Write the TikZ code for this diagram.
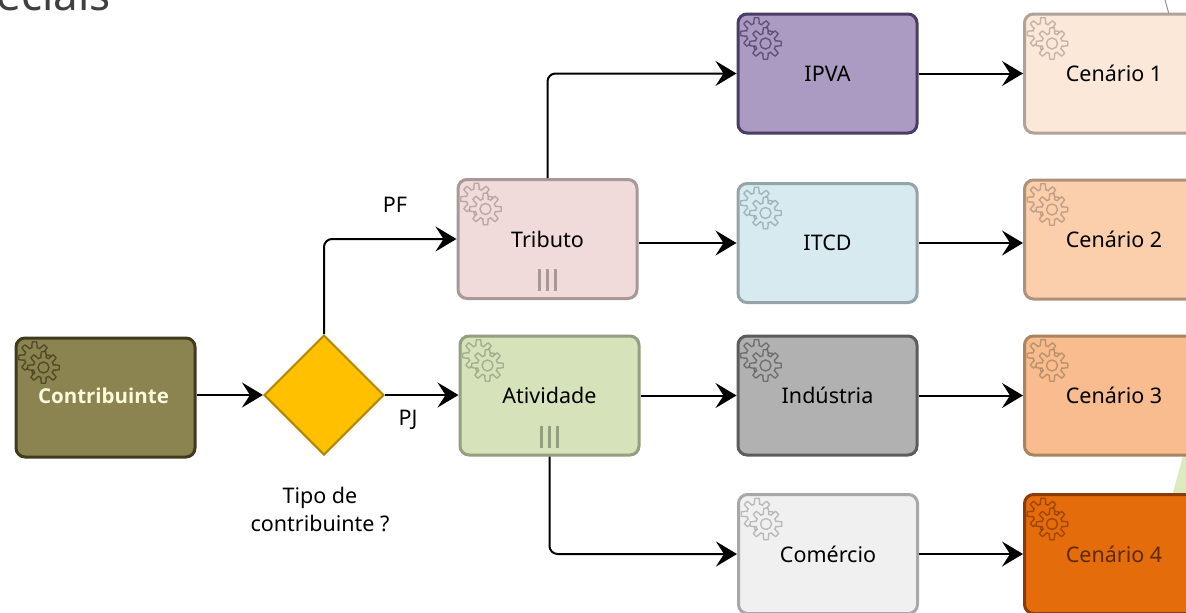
\documentclass[tikz,border=0pt]{standalone}
\usepackage{fontspec}
\setmainfont{Noto Sans}
\newfontfamily\boldface{Open Sans}
\usetikzlibrary{arrows.meta,shapes.geometric}
\definecolor{contribfill}{HTML}{8B8350}
\definecolor{contribline}{HTML}{3F3B1C}
\definecolor{contribtext}{HTML}{FBFBDC}
\definecolor{tributofill}{HTML}{F0DADA}
\definecolor{tributoline}{HTML}{A89898}
\definecolor{ativfill}{HTML}{D6E2BA}
\definecolor{ativline}{HTML}{949E80}
\definecolor{ipvafill}{HTML}{AB9AC1}
\definecolor{ipvaline}{HTML}{4A3C63}
\definecolor{itcdfill}{HTML}{D6EAF0}
\definecolor{itcdline}{HTML}{94A4A8}
\definecolor{indfill}{HTML}{B1B1B1}
\definecolor{indline}{HTML}{5C5C5C}
\definecolor{comfill}{HTML}{F0F0F0}
\definecolor{comline}{HTML}{A8A8A8}
\definecolor{cenafill}{HTML}{FCE8D9}
\definecolor{cenaline}{HTML}{B0A298}
\definecolor{cenbfill}{HTML}{FBCEAC}
\definecolor{cenbline}{HTML}{AF9078}
\definecolor{cencfill}{HTML}{F8BC8E}
\definecolor{cencline}{HTML}{A98460}
\definecolor{cendfill}{HTML}{E46C0A}
\definecolor{cendline}{HTML}{8A3B08}
\definecolor{cendtext}{HTML}{5E2A08}
\definecolor{diamfill}{HTML}{FFC000}
\definecolor{diamline}{HTML}{B38600}
\definecolor{titlegrey}{HTML}{404040}
\definecolor{decogreen}{HTML}{DDEABF}
\tikzset{
  taskbox/.style={draw,rounded corners=9pt,line width=3pt,minimum width=179pt,minimum height=119pt,font=\fontsize{21.5}{26}\selectfont,inner sep=0pt},
  flow/.style={draw=black,line width=2pt,rounded corners=8pt,-{Stealth[length=21pt,width=25pt,inset=8pt]}},
  lbl/.style={font=\fontsize{21.5}{28}\selectfont,align=center},
  pics/gear/.style={code={
    \path[pic actions,draw opacity=.75,line width=1.4pt] plot[domain=0:360,samples=145,shift={(-9,-10)}] (\x:{13+2.8*max(-1,min(1,2*cos(8*\x)))}) -- cycle;
    \path[pic actions,draw opacity=.75,line width=1.4pt] plot[domain=0:360,samples=145] (\x:{13+2.8*max(-1,min(1,2*cos(8*\x)))}) -- cycle;
    \path[pic actions,draw opacity=.75,line width=1.4pt] (0,0) circle (5.5);
  }}
}
\begin{document}
\begin{tikzpicture}[x=1pt,y=-1pt]
  \useasboundingbox (0,0) rectangle (1186,613);
  \clip (0,0) rectangle (1186,613);
  % backdrop
  \fill[decogreen] (1183,456) -- (1172,496) -- (1186,496) -- (1186,456) -- cycle;
  \draw[line width=1pt,black!45] (1165,0) -- (1169,14);
  \node[anchor=base east,inner sep=0pt,text=titlegrey,font=\fontsize{44}{50}\selectfont] (title) at (111,10) {eciais};
  % tasks
  \node[taskbox,fill=contribfill,draw=contribline,text=contribtext,font=\fontsize{20.5}{24}\selectfont\boldface\bfseries] (contrib) at (105.5,397.5) {\hspace{-4pt}\raisebox{3pt}{Contribuinte}};
  \node[diamond,draw=diamline,fill=diamfill,line width=2pt,minimum width=120pt,minimum height=120pt,inner sep=0pt] (gate) at (324,395) {};
  \node[taskbox,fill=tributofill,draw=tributoline] (tributo) at (547.5,239) {Tributo};
  \node[taskbox,fill=ativfill,draw=ativline] (ativ) at (549.5,395.5) {Atividade};
  \node[taskbox,fill=ipvafill,draw=ipvaline] (ipva) at (827.5,73.5) {IPVA};
  \node[taskbox,fill=itcdfill,draw=itcdline] (itcd) at (827.5,243) {ITCD};
  \node[taskbox,fill=indfill,draw=indline] (ind) at (827.5,395.5) {Indústria};
  \node[taskbox,fill=comfill,draw=comline] (com) at (828,554) {Comércio};
  \node[taskbox,fill=cenafill,draw=cenaline] (cena) at (1114,73.5) {Cenário 1};
  \node[taskbox,fill=cenbfill,draw=cenbline] (cenb) at (1114,239.5) {Cenário 2};
  \node[taskbox,fill=cencfill,draw=cencline] (cenc) at (1114,395.5) {Cenário 3};
  \node[taskbox,fill=cendfill,draw=cendline,text=cendtext] (cend) at (1114,554) {Cenário 4};
  % gears
  \foreach \name/\gearcol/\bgcol in {contrib/contribline/contribfill,tributo/tributoline/tributofill,ativ/ativline/ativfill,ipva/ipvaline/ipvafill,itcd/itcdline/itcdfill,ind/indline/indfill,com/comline/comfill,cena/cenaline/cenafill,cenb/cenbline/cenbfill,cenc/cencline/cencfill,cend/cendline/cendfill}
    \pic[draw=\gearcol,fill=\bgcol] at ([xshift=29pt,yshift=-31pt]\name.north west) {gear};
  % loop markers
  \foreach \name/\gearcol in {tributo/tributoline,ativ/ativline}
    \foreach \dx in {-8,0,8}
      \draw[\gearcol,line width=3pt] ([xshift=\dx pt,yshift=9pt]\name.south) -- ([xshift=\dx pt,yshift=31pt]\name.south);
  % connectors
  \draw[flow] (contrib.east |- gate) -- (gate);
  \draw[flow] (gate) |- (tributo);
  \draw[flow] (gate) -- (ativ.west |- gate);
  \draw[flow] (tributo) |- (ipva);
  \draw[flow] (tributo.east |- itcd.west) -- (itcd);
  \draw[flow] (ativ) -- (ind);
  \draw[flow] (ativ) |- (com);
  \draw[flow] (ipva) -- (cena);
  \draw[flow] (itcd.east) -- (cenb.west |- itcd.east);
  \draw[flow] (ind) -- (cenc);
  \draw[flow] (com) -- (cend);
  % labels
  \node[lbl] (pf) at (395,205) {PF};
  \node[lbl] (pj) at (408,420) {PJ};
  \node[lbl] (gatetxt) at (320,509) {Tipo de\\contribuinte ?};
\end{tikzpicture}
\end{document}
